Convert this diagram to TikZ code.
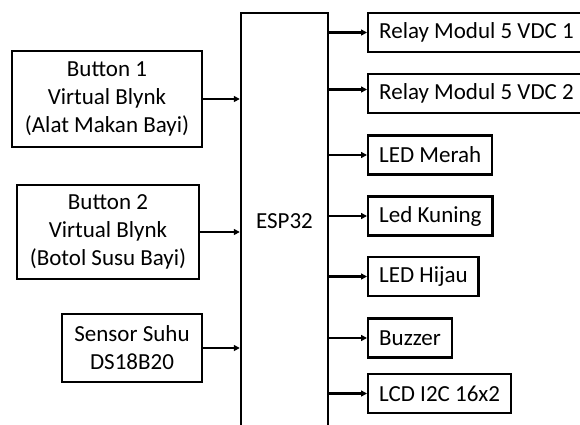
\documentclass[tikz,border=0pt]{standalone}
\usepackage{fontspec}
\setmainfont{Carlito}
\usetikzlibrary{arrows.meta}
\begin{document}
\begin{tikzpicture}[x=1pt,y=-1pt,
  blk/.style={draw=black,line width=2.4pt,align=center,inner sep=0pt,font=\fontsize{23}{28}\selectfont},
  outb/.style={blk,anchor=west,minimum height=39pt,inner xsep=11pt},
  arr/.style={line width=2.4pt,-{Triangle[length=6pt,width=6pt]}}]
\useasboundingbox (0,0) rectangle (580,424);
\clip (0,0) rectangle (580,424);
\node[blk,minimum width=87pt,minimum height=417pt] (esp) at (284.5,221.5) {ESP32};
\node[blk,minimum width=190pt,minimum height=96pt] (b1) at (107,99) {Button 1\\Virtual Blynk\\(Alat Makan Bayi)};
\node[blk,minimum width=182pt,minimum height=94pt] (b2) at (108,232) {Button 2\\Virtual Blynk\\(Botol Susu Bayi)};
\node[blk,minimum width=140pt,minimum height=68pt] (s) at (132,348) {Sensor Suhu\\DS18B20};
\node[outb] (r1) at (367,32.5) {\makebox[205pt][l]{Relay Modul 5 VDC 1}};
\node[outb] (r2) at (367,93.5) {\makebox[205pt][l]{Relay Modul 5 VDC 2}};
\node[outb] (lm) at (367,155) {LED Merah};
\node[outb] (lk) at (367,216) {Led Kuning};
\node[outb] (lh) at (367,276.5) {LED Hijau};
\node[outb] (bz) at (367,338) {Buzzer};
\node[outb] (lcd) at (367,393.5) {LCD I2C 16x2};
\foreach \n in {b1,b2,s}
  \draw[arr] (\n.east) -- (\n.east -| esp.west);
\foreach \n in {r1,lm,lk,lh,bz,lcd}
  \draw[arr] (\n.west -| esp.east) -- (\n.west);
\coordinate (r2in) at ([yshift=4pt]r2.west);
\draw[arr] (r2in -| esp.east) -- (r2in);
\end{tikzpicture}
\end{document}
